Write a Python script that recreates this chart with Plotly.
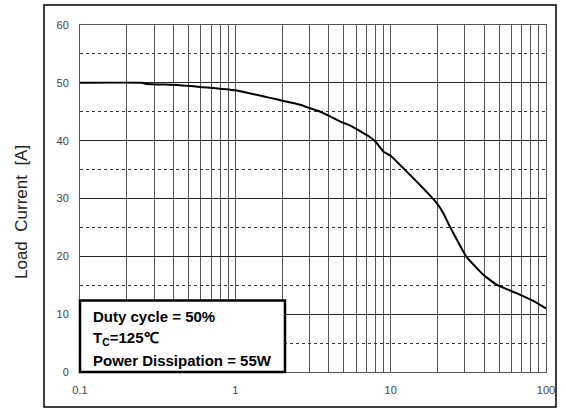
import plotly.graph_objects as go

# Data
time_s = [0.1, 0.25, 0.27, 0.44, 1.0, 1.94, 2.61, 3.03, 3.52, 4.08, 4.74, 5.5, 6.4, 7.2, 8.0,
          9.0, 10.0, 11.5, 14.0, 17.1, 19.8, 21.8, 24.1, 27.4, 30.7, 39.5, 48.0, 65.0, 82.7, 100.0]
load_current = [50.0, 50.0, 49.8, 49.6, 48.7, 47.0, 46.2, 45.6, 45.0, 44.2, 43.3, 42.6, 41.6, 40.8,
                39.8, 38.1, 37.4, 35.8, 33.5, 31.1, 29.2, 27.5, 25.1, 22.3, 19.95, 16.8, 15.1,
                13.6, 12.3, 11.0]

x_tickvals = [0.1, 1, 10, 100]
x_ticktext = ["0.1", "1", "10", "100"]
x_minorvals = [m * d for d in [0.1, 1, 10] for m in range(2, 10)]
y_tickvals = [0, 10, 20, 30, 40, 50, 60]

y_title = "Load\u00a0\u00a0Current\u00a0\u00a0[A]"
info_lines = ["Duty cycle = 50%", "T<sub>C</sub>=125\u2103", "Power Dissipation = 55W"]

W, H = 566, 412
L, R, T, B = 80, 20, 25, 40
pw, ph = W - L - R, H - T - B


def px_x(p):
    return (p - L) / pw


def px_y(p):
    return (H - B - p) / ph


fig = go.Figure()
fig.add_trace(go.Scatter(x=time_s, y=load_current, mode="lines",
                         line=dict(color="black", width=2, shape="spline", smoothing=0.4),
                         showlegend=False, hoverinfo="skip"))

fig.update_layout(
    width=W, height=H,
    margin=dict(l=L, r=R, t=T, b=B),
    paper_bgcolor="white", plot_bgcolor="white",
    font=dict(family="Liberation Sans, Arial, sans-serif", color="#333"),
)
fig.update_xaxes(type="log", range=[-1, 2], tickvals=x_tickvals, ticktext=x_ticktext,
                 tickangle=0,
                 showgrid=True, gridcolor="#555", gridwidth=1,
                 minor=dict(tickvals=x_minorvals, showgrid=True, gridcolor="#555", gridwidth=1, ticks=""),
                 ticks="", tickfont=dict(size=11, color="#444"), ticklabelstandoff=8,
                 showline=True, linecolor="#555", linewidth=1, mirror=True,
                 zeroline=False)
fig.update_yaxes(range=[0, 60], tickvals=y_tickvals,
                 showgrid=True, gridcolor="#222", gridwidth=1,
                 minor=dict(dtick=5, showgrid=True, griddash="3px,3px", gridcolor="#333", gridwidth=1),
                 ticks="", tickfont=dict(size=11, color="#444"), ticklabelstandoff=8,
                 showline=True, linecolor="#555", linewidth=1, mirror=True,
                 zeroline=False)

# y-axis title
fig.add_annotation(xref="paper", yref="paper", x=px_x(21), y=px_y(212), textangle=-90,
                   showarrow=False, text=y_title, xanchor="center", yanchor="middle",
                   font=dict(size=17, color="#222", family="Liberation Sans, Arial, sans-serif"))

# outer frame
fig.add_shape(type="rect", xref="paper", yref="paper", x0=px_x(44), x1=px_x(556), y0=px_y(407), y1=px_y(5),
              line=dict(color="black", width=1.5), fillcolor="rgba(0,0,0,0)", layer="below")
# info box
fig.add_shape(type="rect", xref="paper", yref="paper", x0=0.0, x1=px_x(285), y0=0.0, y1=px_y(300.5),
              line=dict(color="black", width=2.5), fillcolor="white", layer="above")

for txt, ypx in zip(info_lines, [316.7, 338.5, 360.0]):
    fig.add_annotation(xref="paper", yref="paper", x=px_x(91), y=px_y(ypx),
                       xanchor="left", yanchor="middle", showarrow=False, text="<b>%s</b>" % txt,
                       font=dict(size=15, color="black",
                                 family="Liberation Sans, Arial, sans-serif"))

fig.write_html("out.html", config={"displayModeBar": False},
               post_script="document.body.style.margin='0';")
